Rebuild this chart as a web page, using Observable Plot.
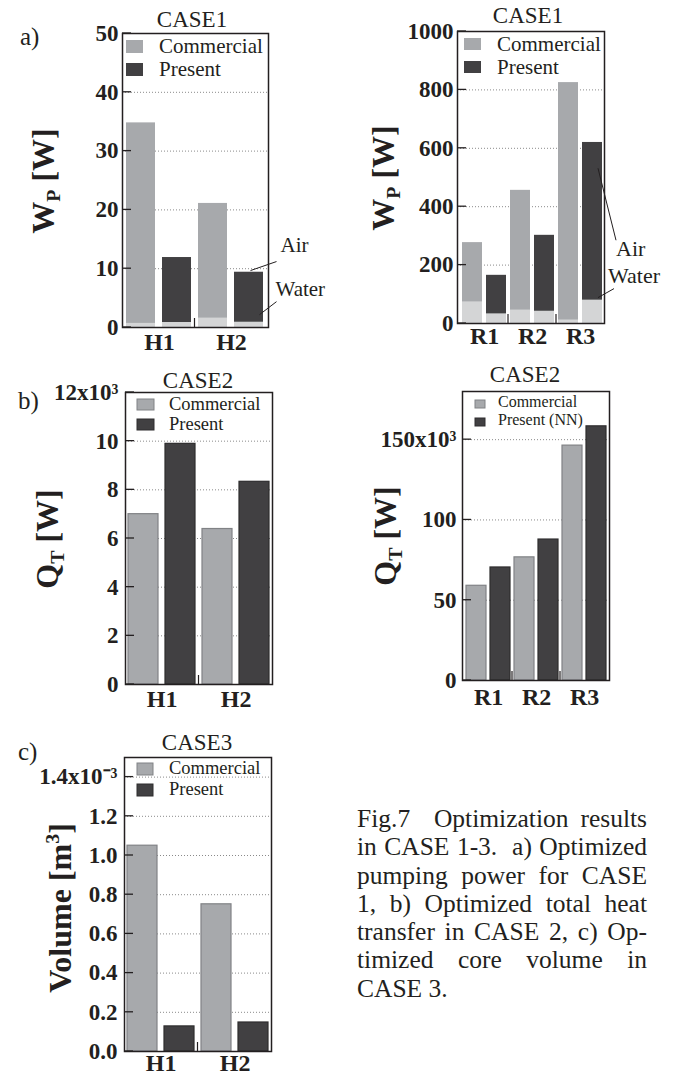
<!DOCTYPE html>
<html>
<head>
<meta charset="utf-8">
<script src="https://cdn.jsdelivr.net/npm/d3@7"></script>
<script src="https://cdn.jsdelivr.net/npm/@observablehq/plot@0.6"></script>
<style>
  body { margin: 0; background: #fff; }
  #page { position: relative; width: 682px; height: 1075px; overflow: hidden;
          font-family: "Liberation Serif", "Times New Roman", serif; color: #231f20; }
  #page svg { position: absolute; overflow: visible; }
  .t { position: absolute; white-space: nowrap; line-height: 1; transform: translate(-50%, -50%); }
  .title { font-size: 23px; }
  .letter { font-size: 25px; transform: translate(0, -50%); }
  .ylab { position: absolute; white-space: nowrap; line-height: 1; font-weight: bold; font-size: 32px;
          transform: translate(-50%, -50%) rotate(-90deg); }
  .ylab sub { font-size: 0.62em; vertical-align: -0.28em; line-height: 0; }
  .ylab sup { font-size: 0.62em; vertical-align: 0.62em; line-height: 0; }
  #caption { position: absolute; left: 357px; top: 805px; width: 290px; font-size: 25.5px; line-height: 28.3px; }
  #caption div { text-align: justify; text-align-last: justify; white-space: nowrap; }
  #caption div.last { text-align-last: left; }
</style>
</head>
<body>
<div id="page"></div>
<script>
// ---------------- data ----------------
const seriesNames   = ["Commercial", "Present"];
const seriesNamesNN = ["Commercial", "Present (NN)"];

// a) CASE1 - pumping power W_P [W]; bar top = total (air + water), light lower part = water
const case1HGroups          = ["H1", "H2"];
const case1HCommercialTotal = [34.8, 21.1];
const case1HCommercialWater = [0.7, 1.6];
const case1HPresentTotal    = [11.9, 9.4];
const case1HPresentWater    = [0.85, 0.9];

const case1RGroups          = ["R1", "R2", "R3"];
const case1RCommercialTotal = [277, 456, 825];
const case1RCommercialWater = [74, 46, 12];
const case1RPresentTotal    = [165, 302, 620];
const case1RPresentWater    = [33, 42, 80];

// b) CASE2 - total heat transfer Q_T [x10^3 W]
const case2HGroups     = ["H1", "H2"];
const case2HCommercial = [7.0, 6.39];
const case2HPresent    = [9.89, 8.33];

const case2RGroups     = ["R1", "R2", "R3"];
const case2RCommercial = [59, 76.7, 146.3];
const case2RPresent    = [70.4, 87.8, 158.3];

// c) CASE3 - core volume [x10^-3 m^3]
const case3HGroups     = ["H1", "H2"];
const case3HCommercial = [1.05, 0.751];
const case3HPresent    = [0.128, 0.148];

// tick values / labels
const yTicksA1 = [0, 10, 20, 30, 40, 50];
const yTicksA2 = [0, 200, 400, 600, 800, 1000];
const yTicksB1 = [0, 2, 4, 6, 8, 10, 12];
const yTicksB2 = [0, 50, 100, 150];
const yTicksC  = [0, 0.2, 0.4, 0.6, 0.8, 1.0, 1.2, 1.4];
const fmtB1 = d => d === 12 ? "12x10³" : String(d);
const fmtB2 = d => d === 150 ? "150x10³" : String(d);
const fmtC  = d => d === 1.4 ? "1.4x10⁻³" : d.toFixed(1);

// ---------------- style ----------------
const ink = "#231f20";
const fills = ["#a7a9ac", "#414042"];
const strokes = ["#808285", "#2e2d2e"];
const waterFill = "#d4d5d6";
const FONT = "'Liberation Serif', 'Times New Roman', serif";

const page = document.getElementById("page");

function buildRows(groups, series, totals, waters) {
  const rows = [];
  groups.forEach((g, i) => series.forEach((s, j) => rows.push({
    key: g + "|" + s, group: g, series: j, name: s,
    total: totals[j][i], water: waters ? waters[j][i] : null
  })));
  return rows;
}

function makePanel(c) {
  const rows = buildRows(c.groups, c.series, c.totals, c.waters);
  const keys = rows.map(d => d.key);
  const n = keys.length, per = c.series.length;
  const rangeW = c.width - c.m.left - c.m.right;
  const step = rangeW / (n - c.pi + 2 * c.po);
  const firsts = rows.filter(d => d.series === 0);
  const gridTicks = c.yTicks.filter(v => v > c.yDomain[0] && v < c.yDomain[1]);

  const marks = [
    Plot.ruleY(gridTicks, {stroke: "#8a8a8a", strokeWidth: 1, strokeDasharray: "1,2"}),
    Plot.barY(rows, {x: "key", y: "total", fill: d => fills[d.series],
      stroke: c.bordered ? (d => strokes[d.series]) : null, strokeWidth: 1.2})
  ];
  if (c.waters) marks.push(Plot.barY(rows, {x: "key", y: "water", fill: waterFill}));
  marks.push(Plot.frame({stroke: ink, strokeWidth: 1.5}));
  marks.push(Plot.text(firsts, {x: "key", text: "group", frameAnchor: "bottom", lineAnchor: "top",
    dx: step * (per - 1) / 2, dy: c.xpad, fontSize: 24, fontWeight: "bold", fill: ink}));
  marks.push(Plot.text(c.yTicks, {y: d => d, text: c.yFmt || (d => String(d)), frameAnchor: "left",
    textAnchor: "end", dx: -c.ygap, fontSize: 23, fontWeight: "bold", fill: ink}));

  const plot = Plot.plot({
    width: c.width, height: c.height,
    marginLeft: c.m.left, marginRight: c.m.right, marginTop: c.m.top, marginBottom: c.m.bottom,
    x: {type: "band", domain: keys, paddingInner: c.pi, paddingOuter: c.po, align: c.align ?? 0.5, axis: null},
    y: {domain: c.yDomain, axis: null},
    style: {fontFamily: FONT, background: "transparent", color: ink},
    marks
  });
  plot.style.left = c.left + "px";
  plot.style.top = c.top + "px";
  page.appendChild(plot);

  // overlay decorations using the plot's own scales
  const xs = plot.scale("x"), ys = plot.scale("y");
  const bw = xs.bandwidth;
  const X = k => xs.apply(k), Y = v => ys.apply(v);
  const fl = c.m.left, ft = c.m.top, fb = c.height - c.m.bottom;
  const g = d3.select(plot).append("g").attr("font-family", FONT).attr("fill", ink)
    .attr("text-anchor", "start");

  // inward tick marks on the left frame edge
  c.yTicks.forEach(v => g.append("line")
    .attr("x1", fl).attr("x2", fl + 9).attr("y1", Y(v)).attr("y2", Y(v))
    .attr("stroke", ink).attr("stroke-width", 1.3));

  // group separator ticks on the bottom edge
  for (let i = 0; i < c.groups.length - 1; i++) {
    const lastKey = c.groups[i] + "|" + c.series[per - 1];
    const nextKey = c.groups[i + 1] + "|" + c.series[0];
    const sx = (X(lastKey) + bw + X(nextKey)) / 2;
    g.append("line").attr("x1", sx).attr("x2", sx).attr("y1", fb).attr("y2", fb - 9)
      .attr("stroke", ink).attr("stroke-width", 1.2);
  }

  // legend
  const L = c.legend;
  c.series.forEach((s, j) => {
    g.append("rect").attr("x", fl + L.sx).attr("y", ft + L.sy + j * L.gap)
      .attr("width", L.w).attr("height", L.h).attr("fill", fills[j])
      .attr("stroke", c.bordered ? strokes[j] : "none").attr("stroke-width", 1);
    g.append("text").attr("x", fl + L.tx).attr("y", ft + L.ty + j * L.gap).attr("dy", "0.32em")
      .attr("text-anchor", "start").attr("font-size", L.fs).text(s);
  });

  // annotations (Air / Water leader lines)
  (c.annotations || []).forEach(a => {
    const x0 = X(a.key) + bw / 2 + a.at, y0 = Y(a.value);
    g.append("line").attr("x1", x0).attr("y1", y0).attr("x2", x0 + a.end[0]).attr("y2", y0 + a.end[1])
      .attr("stroke", ink).attr("stroke-width", 1);
    g.append("text").attr("x", x0 + a.label[0]).attr("y", y0 + a.label[1]).attr("dy", "0.32em")
      .attr("text-anchor", "start").attr("font-size", a.fs).text(a.text);
  });
  return plot;
}

// a) left
makePanel({
  left: 0, top: 0, width: 341, height: 350, m: {left: 122, right: 73, top: 33, bottom: 23},
  pi: 0.19, po: 0.07, groups: case1HGroups, series: seriesNames,
  totals: [case1HCommercialTotal, case1HPresentTotal], waters: [case1HCommercialWater, case1HPresentWater],
  yDomain: [0, 50], yTicks: yTicksA1, ygap: 4, xpad: 5, bordered: false,
  legend: {sx: 4, sy: 7, w: 17, h: 13, gap: 23, tx: 37, ty: 13.5, fs: 21},
  annotations: [
    {text: "Air", key: "H2|Present", value: 9.6, at: 2, end: [26, -9], label: [30, -25], fs: 21},
    {text: "Water", key: "H2|Present", value: 2.1, at: 11, end: [17, -13], label: [16, -25], fs: 21}
  ]
});
// a) right
makePanel({
  left: 341, top: 0, width: 341, height: 350, m: {left: 116, right: 78, top: 31, bottom: 27},
  pi: 0.18, po: 0.1, align: 0.72, groups: case1RGroups, series: seriesNames,
  totals: [case1RCommercialTotal, case1RPresentTotal], waters: [case1RCommercialWater, case1RPresentWater],
  yDomain: [0, 1000], yTicks: yTicksA2, ygap: 4, xpad: 3, bordered: false,
  legend: {sx: 7, sy: 7, w: 17, h: 12, gap: 23, tx: 40, ty: 13, fs: 21},
  annotations: [
    {text: "Air", key: "R3|Present", value: 530, at: 6, end: [18, 72], label: [18, 81], fs: 22},
    {text: "Water", key: "R3|Present", value: 87, at: 6, end: [16, -9], label: [10, -22], fs: 22}
  ]
});
// b) left
makePanel({
  left: 0, top: 350, width: 341, height: 370, m: {left: 125, right: 69, top: 42, bottom: 36},
  pi: 0.2, po: 0.08, groups: case2HGroups, series: seriesNames,
  totals: [case2HCommercial, case2HPresent], waters: null,
  yDomain: [0, 12], yTicks: yTicksB1, yFmt: fmtB1, ygap: 7, xpad: 5, bordered: true,
  legend: {sx: 12, sy: 7, w: 17, h: 11, gap: 20, tx: 44, ty: 12, fs: 18.5}
});
// b) right
makePanel({
  left: 341, top: 350, width: 341, height: 370, m: {left: 121, right: 73, top: 41, bottom: 40},
  pi: 0.18, po: 0.1, groups: case2RGroups, series: seriesNamesNN,
  totals: [case2RCommercial, case2RPresent], waters: null,
  yDomain: [0, 180], yTicks: yTicksB2, yFmt: fmtB2, ygap: 6, xpad: 7, bordered: true,
  legend: {sx: 13, sy: 9, w: 10, h: 8, gap: 18, tx: 36, ty: 11, fs: 16}
});
// c)
makePanel({
  left: 0, top: 720, width: 341, height: 355, m: {left: 124, right: 70, top: 37, bottom: 24},
  pi: 0.2, po: 0.08, groups: case3HGroups, series: seriesNames,
  totals: [case3HCommercial, case3HPresent], waters: null,
  yDomain: [0, 1.5], yTicks: yTicksC, yFmt: fmtC, ygap: 7, xpad: 2, bordered: true,
  legend: {sx: 13, sy: 6, w: 16, h: 12, gap: 21, tx: 45, ty: 11, fs: 18.5}
});

// ---------------- texts ----------------
function addDiv(cls, x, y, html) {
  const d = document.createElement("div");
  d.className = cls; d.style.left = x + "px"; d.style.top = y + "px"; d.innerHTML = html;
  page.appendChild(d);
}
addDiv("t title", 192, 19, "CASE1");
addDiv("t title", 528, 15, "CASE1");
addDiv("t title", 198, 380, "CASE2");
addDiv("t title", 525, 374, "CASE2");
addDiv("t title", 197, 742, "CASE3");
addDiv("t letter", 20, 36, "a)");
addDiv("t letter", 18, 400, "b)");
addDiv("t letter", 18, 751, "c)");
addDiv("ylab", 43, 181, "W<sub>P</sub> [W]");
addDiv("ylab", 383, 178, "W<sub>P</sub> [W]");
addDiv("ylab", 47, 539, "Q<sub>T</sub> [W]");
addDiv("ylab", 385, 536, "Q<sub>T</sub> [W]");
addDiv("ylab", 60, 908, "Volume [m<sup>3</sup>]");

const captionLines = [
  "Fig.7 &nbsp;Optimization results",
  "in CASE 1-3. &nbsp;a) Optimized",
  "pumping power for CASE",
  "1, b) Optimized total heat",
  "transfer in CASE 2, c) Op-",
  "timized core volume in",
  "CASE 3."
];
const cap = document.createElement("div");
cap.id = "caption";
cap.innerHTML = captionLines.map((l, i) =>
  `<div class="${i === captionLines.length - 1 ? "last" : ""}">${l}</div>`).join("");
page.appendChild(cap);
</script>
</body>
</html>
